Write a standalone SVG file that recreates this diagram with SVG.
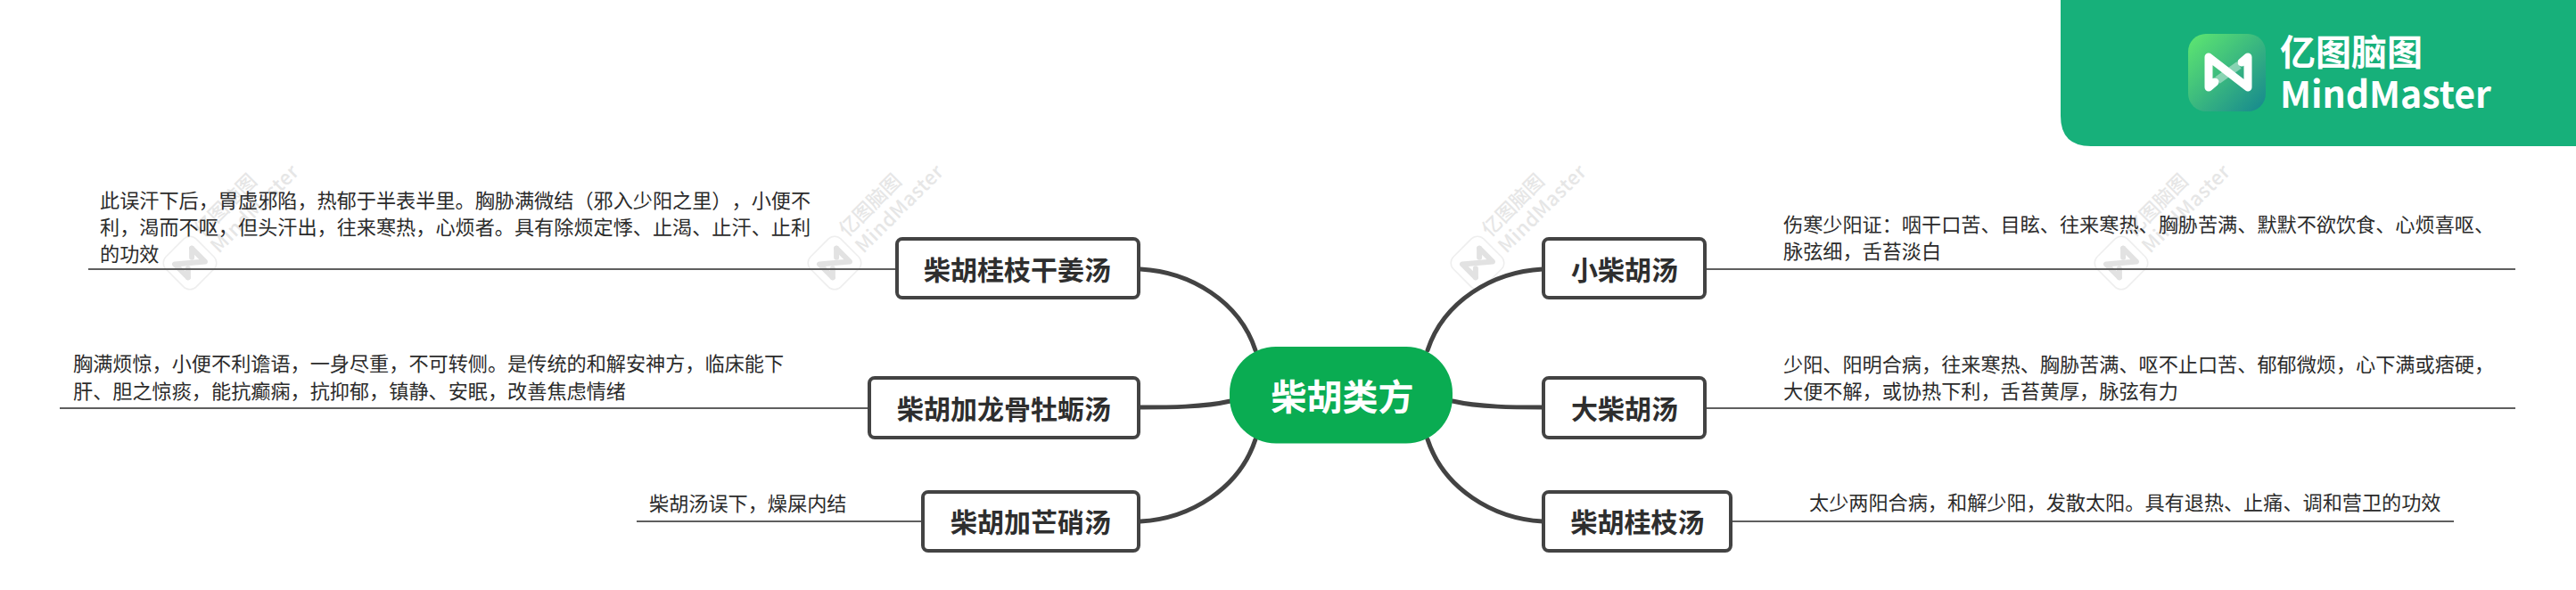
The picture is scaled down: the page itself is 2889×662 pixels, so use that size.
<svg xmlns="http://www.w3.org/2000/svg" xmlns:xlink="http://www.w3.org/1999/xlink" width="2889" height="662" viewBox="0 0 2889 662">
<style>
text{font-family:"Noto Sans CJK SC","Liberation Sans",sans-serif;text-spacing-trim:space-all}
.box{fill:#fff;stroke:#434343;stroke-width:4}
.name{font-size:30px;font-weight:700;fill:#2e2e2e;text-anchor:middle}
.note{font-size:22.15px;fill:#2b2b2b}
.branch{fill:none;stroke:#434343;stroke-width:5;stroke-linecap:round}
.leaf{fill:none;stroke:#5f5f5f;stroke-width:2}
.wm{font-size:22px;font-weight:500;fill:#e6e6e6}
</style>
<defs>
<linearGradient id="icon" x1="0" y1="0" x2="1" y2="1">
<stop offset="0" stop-color="#5fe870"/><stop offset="1" stop-color="#15878f"/>
</linearGradient>
<g id="watermark">
<rect x="-24" y="-24" width="48" height="48" rx="10" transform="rotate(-45)" fill="#fff" stroke="#eeeeee" stroke-width="1.5"/>
<g transform="rotate(-45)" fill="none" stroke="#e2e2e2" stroke-width="6" stroke-linecap="round" stroke-linejoin="round">
<path d="M-13 10V-11L13 11V-10"/>
<path d="M-13 10L-6 3M13 -10L6 -3"/>
</g>
<g transform="rotate(-45)">
<text class="wm" x="30" y="-10">亿图脑图</text>
<text class="wm" x="30" y="16" letter-spacing=".6">MindMaster</text>
</g>
</g>
</defs>
<rect id="background" width="2889" height="662" fill="#fff"/>
<g id="watermarks">
<use xlink:href="#watermark" href="#watermark" x="213" y="295"/>
<use xlink:href="#watermark" href="#watermark" x="936" y="295"/>
<use xlink:href="#watermark" href="#watermark" x="1657" y="295"/>
<use xlink:href="#watermark" href="#watermark" x="2379" y="295"/>
</g>
<g id="brand">
<path d="M2311 0H2889V164H2345Q2311 164 2311 130Z" fill="#17b07a"/>
<rect x="2454" y="38" width="87" height="87" rx="20" fill="url(#icon)"/>
<path d="M2487 90L2511 73" stroke="#fff" stroke-opacity=".4" stroke-width="9" fill="none"/>
<path d="M2477 64V98L2484 92M2477 64L2521 98V64L2514 70" stroke="#fff" stroke-width="9" fill="none" stroke-linecap="round" stroke-linejoin="round"/>
<text x="2557" y="73" font-size="40" font-weight="700" fill="#fff">亿图脑图</text>
<text x="2557" y="121" font-size="41" font-weight="700" fill="#fff">MindMaster</text>
</g>
<g id="connectors">
<path class="branch" d="M1408 393C1390 338 1335 305 1279 302"/>
<path class="branch" d="M1380 450C1350 457 1310 457 1279 457"/>
<path class="branch" d="M1408 493C1390 548 1335 582 1279 585"/>
<path class="branch" d="M1601 393C1619 338 1674 305 1730 302"/>
<path class="branch" d="M1629 450C1659 457 1699 457 1730 457"/>
<path class="branch" d="M1601 493C1619 548 1674 582 1730 585"/>
<path class="leaf" d="M99 302H1005"/>
<path class="leaf" d="M67 458H974"/>
<path class="leaf" d="M714 585H1034"/>
<path class="leaf" d="M1914 302H2821"/>
<path class="leaf" d="M1914 458H2821"/>
<path class="leaf" d="M1943 585H2752"/>
</g>
<g id="root">
<rect x="1379" y="389" width="250" height="108.500" rx="52" fill="#0aac52"/>
<text x="1505.500" y="460" font-size="40" font-weight="700" fill="#fff" text-anchor="middle">柴胡类方</text>
</g>
<g id="n1">
<rect class="box" x="1006" y="268" width="271" height="66" rx="6"/>
<text class="name" x="1141" y="314">柴胡桂枝干姜汤</text>
</g>
<g id="n2">
<rect class="box" x="975" y="424" width="302" height="67" rx="6"/>
<text class="name" x="1126" y="470">柴胡加龙骨牡蛎汤</text>
</g>
<g id="n3">
<rect class="box" x="1035" y="552" width="242" height="66" rx="6"/>
<text class="name" x="1156" y="597">柴胡加芒硝汤</text>
</g>
<g id="n4">
<rect class="box" x="1731" y="268" width="181" height="66" rx="6"/>
<text class="name" x="1822" y="314">小柴胡汤</text>
</g>
<g id="n5">
<rect class="box" x="1731" y="424" width="181" height="67" rx="6"/>
<text class="name" x="1822" y="470">大柴胡汤</text>
</g>
<g id="n6">
<rect class="box" x="1731" y="552" width="210" height="66" rx="6"/>
<text class="name" x="1836.500" y="597">柴胡桂枝汤</text>
</g>
<g id="note1">
<text class="note" x="112" y="233">此误汗下后，胃虚邪陷，热郁于半表半里。胸胁满微结（邪入少阳之里），小便不</text>
<text class="note" x="112" y="263">利，渴而不呕，但头汗出，往来寒热，心烦者。具有除烦定悸、止渴、止汗、止利</text>
<text class="note" x="112" y="293">的功效</text>
</g>
<g id="note2">
<text class="note" x="82" y="416">胸满烦惊，小便不利谵语，一身尽重，不可转侧。是传统的和解安神方，临床能下</text>
<text class="note" x="82" y="447">肝、胆之惊痰，能抗癫痫，抗抑郁，镇静、安眠，改善焦虑情绪</text>
</g>
<g id="note3">
<text class="note" x="728" y="573">柴胡汤误下，燥屎内结</text>
</g>
<g id="note4">
<text class="note" x="2000" y="260">伤寒少阳证：咽干口苦、目眩、往来寒热、胸胁苦满、默默不欲饮食、心烦喜呕、</text>
<text class="note" x="2000" y="290">脉弦细，舌苔淡白</text>
</g>
<g id="note5">
<text class="note" x="2000" y="417">少阳、阳明合病，往来寒热、胸胁苦满、呕不止口苦、郁郁微烦，心下满或痞硬，</text>
<text class="note" x="2000" y="447">大便不解，或协热下利，舌苔黄厚，脉弦有力</text>
</g>
<g id="note6">
<text class="note" x="2029" y="572">太少两阳合病，和解少阳，发散太阳。具有退热、止痛、调和营卫的功效</text>
</g>
</svg>
